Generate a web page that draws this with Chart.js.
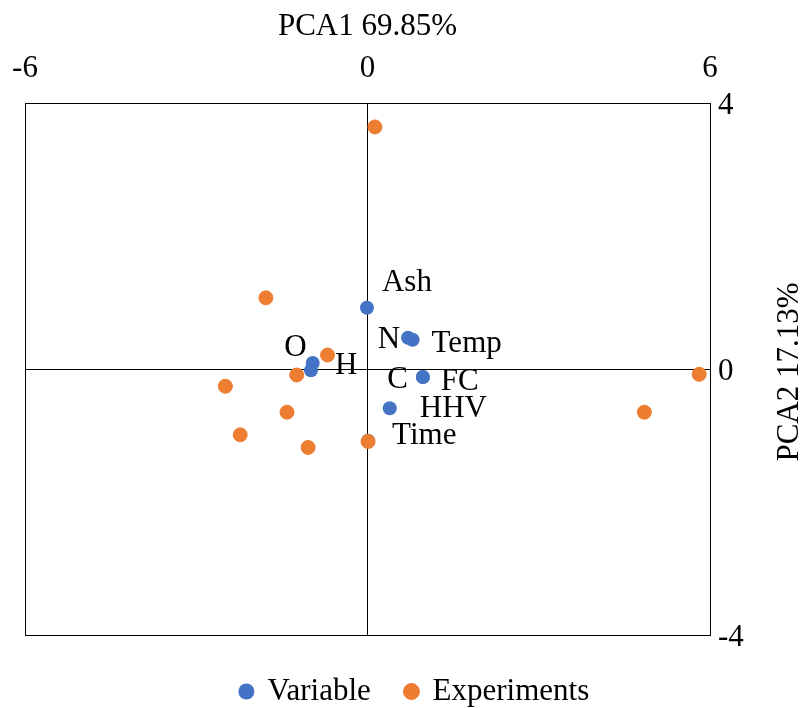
<!DOCTYPE html>
<html><head><meta charset="utf-8">
<script src="https://cdn.jsdelivr.net/npm/chart.js@4"></script>
<style>html,body{margin:0;padding:0;background:#fff}#wrap{width:805px;height:708px}</style>
</head><body><div id="wrap"><canvas id="c" width="805" height="708"></canvas></div>
<script>
const variableNames = ['Ash','N','Temp','O','H','C','FC','HHV','Time'];
const variableX = [-0.01, 0.71, 0.79, -0.96, -0.99, 0.97, 0.97, 0.39, 0.01];
const variableY = [0.92, 0.47, 0.44, 0.09, -0.02, -0.12, -0.12, -0.59, -1.08];
const experimentX = [0.13, -1.78, -0.70, -1.24, -2.49, -1.41, -2.23, -1.04, 0.01, 4.85, 5.81];
const experimentY = [3.64, 1.07, 0.21, -0.09, -0.26, -0.65, -0.99, -1.18, -1.09, -0.65, -0.08];
const xTicks = [-6, 0, 6];
const yTicks = [-4, 0, 4];
const xTitle = 'PCA1 69.85%';
const yTitle = 'PCA2 17.13%';
// label placement: [dx, dy, align]
const labelPlacement = [[15,-25,'left'],[-8,2,'right'],[19,4,'left'],[-6,-15,'right'],[24,-4,'left'],[-15,3,'right'],[18,5,'left'],[30,1,'left'],[24,-5,'left']];

const FONT = '"Liberation Serif", "Times New Roman", serif';
const FS = 31;
const labelPlugin = {
  id: 'pointLabels',
  afterDatasetsDraw(chart) {
    const meta = chart.getDatasetMeta(0);
    const ctx = chart.ctx;
    ctx.save();
    ctx.font = FS + 'px ' + FONT;
    ctx.fillStyle = '#000';
    ctx.textBaseline = 'middle';
    meta.data.forEach((pt, i) => {
      const p = labelPlacement[i];
      ctx.textAlign = p[2];
      ctx.fillText(variableNames[i], pt.x + p[0], pt.y + p[1]);
    });
    ctx.restore();
  }
};
const yTitlePlugin = {
  id: 'yTitle',
  afterDraw(chart) {
    const ctx = chart.ctx;
    const y = chart.scales.y;
    ctx.save();
    ctx.font = FS + 'px ' + FONT;
    ctx.fillStyle = '#000';
    ctx.textAlign = 'center';
    ctx.textBaseline = 'middle';
    ctx.translate(y.right - 15, (y.top + y.bottom) / 2 + 3);
    ctx.rotate(-Math.PI / 2);
    ctx.fillText(yTitle, 0, 0);
    ctx.restore();
  }
};

new Chart(document.getElementById('c'), {
  type: 'scatter',
  data: {
    datasets: [
      { label: 'Variable', data: variableX.map((x,i)=>({x, y: variableY[i]})), backgroundColor: '#4472C4', borderColor: '#4472C4', borderWidth: 0, pointRadius: 7, pointHoverRadius: 7, order: 1 },
      { label: 'Experiments', data: experimentX.map((x,i)=>({x, y: experimentY[i]})), backgroundColor: '#ED7D31', borderColor: '#ED7D31', borderWidth: 1, pointRadius: 7, pointHoverRadius: 7, order: 0 }
    ]
  },
  options: {
    responsive: false,
    animation: false,
    layout: { padding: { left: 25, top: 0, right: 0, bottom: -9 } },
    plugins: {
      legend: {
        position: 'bottom',
        title: { display: true, text: '', font: { size: 5 }, padding: 0 },
        labels: { usePointStyle: true, pointStyle: 'circle', boxWidth: 11.3, boxHeight: 11.3, color: '#000', font: { family: FONT, size: FS }, padding: 35,
          sort: (a, b) => a.datasetIndex - b.datasetIndex }
      },
      tooltip: { enabled: false }
    },
    scales: {
      x: {
        type: 'linear', position: 'top', min: -6, max: 6,
        afterBuildTicks: s => { s.ticks = xTicks.map(v => ({ value: v })); },
        afterFit: s => { s.height = 103; s.paddingLeft = 0; s.paddingRight = 0; },
        grid: { color: '#000', lineWidth: 1, drawTicks: false },
        border: { color: '#000' },
        ticks: { color: '#000', font: { family: FONT, size: FS }, padding: 16 },
        title: { display: true, text: xTitle, color: '#000', font: { family: FONT, size: FS }, padding: { top: 8, bottom: 0 } }
      },
      y: {
        type: 'linear', position: 'right', min: -4, max: 4,
        afterBuildTicks: s => { s.ticks = yTicks.map(v => ({ value: v })); },
        afterFit: s => { s.width = 95; },
        grid: { color: '#000', lineWidth: 1, drawTicks: false },
        border: { color: '#000' },
        ticks: { color: '#000', font: { family: FONT, size: FS }, padding: 8, labelOffset: 3 },
        title: { display: false }
      }
    }
  },
  plugins: [labelPlugin, yTitlePlugin]
});
</script></body></html>
